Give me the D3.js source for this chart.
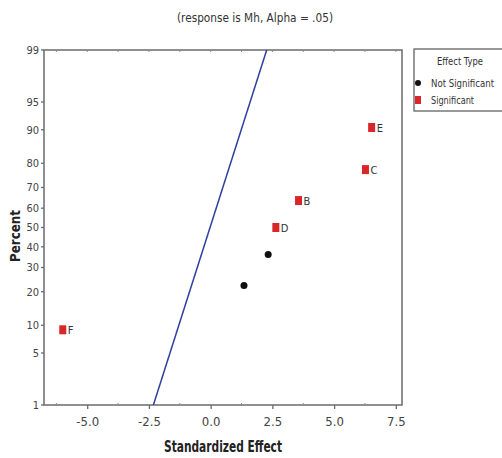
<!DOCTYPE html>
<html>
<head>
<meta charset="utf-8">
<script src="https://cdn.jsdelivr.net/npm/d3@7"></script>
<style>
  body { margin: 0; background: #fff; }
  text { font-family: "DejaVu Sans Condensed", "Liberation Sans Narrow", sans-serif; }
</style>
</head>
<body>
<svg width="502" height="458"></svg>
<script>

// effects
const effectNames = ["F", "", "", "D", "B", "C", "E"];
const effectValues = [-5.99, 1.35, 2.33, 2.64, 3.56, 6.27, 6.52];
const effectPercents = [9.0, 22.4, 36.2, 50, 63.8, 77.6, 90.5];
const effectSignificant = [true, false, false, true, true, true, true];

// reference line ends (percent 1 and 99)
const lineEffect = [-2.32, 2.27];
const linePercent = [1, 99];

const xTicks = [-5.0, -2.5, 0.0, 2.5, 5.0, 7.5];
const yTicks = [1, 5, 10, 20, 30, 40, 50, 60, 70, 80, 90, 95, 99];

const legendLabels = ["Not Significant", "Significant"];

const svg = d3.select("svg");

const margin = { left: 44, right: 100, top: 50, bottom: 53 };
const plotW = 502 - margin.left - margin.right;
const plotH = 458 - margin.top - margin.bottom;

const chart = svg.append("g")
  .attr("transform", "translate(" + margin.left + "," + margin.top + ")");

const x = d3.scaleLinear().domain([-6.75, 7.75]).range([0, plotW]);

// inverse normal cdf (Acklam) for the probability axis
function probit(p) {
  const a = [-3.969683028665376e+01, 2.209460984245205e+02, -2.759285104469687e+02, 1.383577518672690e+02, -3.066479806614716e+01, 2.506628277459239e+00];
  const b = [-5.447609879822406e+01, 1.615858368580409e+02, -1.556989798598866e+02, 6.680131188771972e+01, -1.328068155288572e+01];
  const c = [-7.784894002430293e-03, -3.223964580411365e-01, -2.400758277161838e+00, -2.549732539343734e+00, 4.374664141464968e+00, 2.938163982698783e+00];
  const d = [7.784695709041462e-03, 3.224671290700398e-01, 2.445134137142996e+00, 3.754408661907416e+00];
  const pl = 0.02425;
  let q, r;
  if (p < pl) {
    q = Math.sqrt(-2 * Math.log(p));
    return (((((c[0]*q+c[1])*q+c[2])*q+c[3])*q+c[4])*q+c[5]) / ((((d[0]*q+d[1])*q+d[2])*q+d[3])*q+1);
  } else if (p <= 1 - pl) {
    q = p - 0.5; r = q * q;
    return (((((a[0]*r+a[1])*r+a[2])*r+a[3])*r+a[4])*r+a[5])*q / (((((b[0]*r+b[1])*r+b[2])*r+b[3])*r+b[4])*r+1);
  } else {
    q = Math.sqrt(-2 * Math.log(1 - p));
    return -(((((c[0]*q+c[1])*q+c[2])*q+c[3])*q+c[4])*q+c[5]) / ((((d[0]*q+d[1])*q+d[2])*q+d[3])*q+1);
  }
}

const zScale = d3.scaleLinear().domain([probit(0.01), probit(0.99)]).range([plotH, 0]);
const y = p => zScale(probit(p / 100));

// frame
chart.append("rect")
  .attr("width", plotW)
  .attr("height", plotH)
  .attr("fill", "none")
  .attr("stroke", "#6b6b6b")
  .attr("stroke-width", 1.5);

// x axis
const xAxis = chart.append("g")
  .attr("transform", "translate(0," + plotH + ")")
  .call(d3.axisBottom(x).tickValues(xTicks).tickFormat(d => d.toFixed(1)).tickSize(4).tickPadding(8));
xAxis.select(".domain").remove();
xAxis.selectAll("line").attr("stroke", "#6b6b6b").attr("stroke-width", 1.3);
xAxis.selectAll("text").attr("fill", "#444").style("font-size", "13px");

// minor ticks on x, top and bottom
const minor = d3.range(-6.25, 7.8, 1.25).filter(v => xTicks.indexOf(v) < 0);
chart.selectAll(".minor-b").data(minor).enter().append("line")
  .attr("x1", d => x(d)).attr("x2", d => x(d))
  .attr("y1", plotH).attr("y2", plotH - 2)
  .attr("stroke", "#8a8a8a");
chart.selectAll(".minor-t").data(d3.range(-6.25, 7.8, 1.25)).enter().append("line")
  .attr("x1", d => x(d)).attr("x2", d => x(d))
  .attr("y1", 0).attr("y2", 2)
  .attr("stroke", "#8a8a8a");

// y axis (probability scale)
const yt = chart.selectAll(".ytick").data(yTicks).enter().append("g")
  .attr("transform", d => "translate(0," + y(d) + ")");
yt.append("line").attr("x1", -3).attr("x2", 0).attr("stroke", "#6b6b6b").attr("stroke-width", 1.3);
yt.append("text")
  .attr("x", -5)
  .attr("dy", "0.35em")
  .attr("text-anchor", "end")
  .attr("fill", "#444")
  .style("font-size", "11px")
  .text(d => d);

// reference line
chart.append("line")
  .attr("x1", x(lineEffect[0])).attr("y1", y(linePercent[0]))
  .attr("x2", x(lineEffect[1])).attr("y2", y(linePercent[1]))
  .attr("stroke", "#2e3f9e")
  .attr("stroke-width", 1.5);

// points
const pts = effectValues.map((v, i) => ({ v: v, p: effectPercents[i], name: effectNames[i], sig: effectSignificant[i] }));

chart.selectAll(".sig").data(pts.filter(d => d.sig)).enter().append("rect")
  .attr("x", d => x(d.v) - 3.5)
  .attr("y", d => y(d.p) - 4.5)
  .attr("width", 7)
  .attr("height", 9)
  .attr("fill", "#d8262a");

chart.selectAll(".nsig").data(pts.filter(d => !d.sig)).enter().append("circle")
  .attr("cx", d => x(d.v))
  .attr("cy", d => y(d.p))
  .attr("r", 3.5)
  .attr("fill", "#111");

chart.selectAll(".lbl").data(pts.filter(d => d.name)).enter().append("text")
  .attr("x", d => x(d.v) + 5)
  .attr("y", d => y(d.p))
  .attr("dy", "0.38em")
  .attr("fill", "#333")
  .style("font-size", "11px")
  .text(d => d.name);

// titles
svg.append("text")
  .attr("x", 255)
  .attr("y", 22)
  .attr("text-anchor", "middle")
  .attr("fill", "#333")
  .style("font-size", "12px")
  .attr("textLength", 156)
  .attr("lengthAdjust", "spacingAndGlyphs")
  .text("(response is Mh, Alpha = .05)");

svg.append("text")
  .attr("x", 223)
  .attr("y", 452)
  .attr("text-anchor", "middle")
  .attr("fill", "#222")
  .style("font-size", "15px")
  .style("font-weight", "bold")
  .attr("textLength", 118)
  .attr("lengthAdjust", "spacingAndGlyphs")
  .text("Standardized Effect");

svg.append("text")
  .attr("transform", "translate(20,236) rotate(-90)")
  .attr("text-anchor", "middle")
  .attr("fill", "#222")
  .style("font-size", "14px")
  .style("font-weight", "bold")
  .attr("textLength", 52)
  .attr("lengthAdjust", "spacingAndGlyphs")
  .text("Percent");

// legend
const legend = svg.append("g").attr("transform", "translate(414,49)");
legend.append("rect")
  .attr("width", 100)
  .attr("height", 62)
  .attr("fill", "#fff")
  .attr("stroke", "#555")
  .attr("stroke-width", 1.2);
legend.append("text")
  .attr("x", 46)
  .attr("y", 16)
  .attr("text-anchor", "middle")
  .attr("fill", "#333")
  .style("font-size", "11px")
  .attr("textLength", 46)
  .attr("lengthAdjust", "spacingAndGlyphs")
  .text("Effect Type");
legend.append("circle").attr("cx", 4).attr("cy", 34).attr("r", 3).attr("fill", "#111");
legend.append("rect").attr("x", 1).attr("y", 47).attr("width", 6).attr("height", 8).attr("fill", "#d8262a");
legend.selectAll(".ll").data(legendLabels).enter().append("text")
  .attr("x", 17)
  .attr("y", (d, i) => 34 + i * 17)
  .attr("dy", "0.35em")
  .attr("fill", "#333")
  .style("font-size", "10px")
  .attr("textLength", (d, i) => i ? 43 : 63)
  .attr("lengthAdjust", "spacingAndGlyphs")
  .text(d => d);

</script>
</body>
</html>
